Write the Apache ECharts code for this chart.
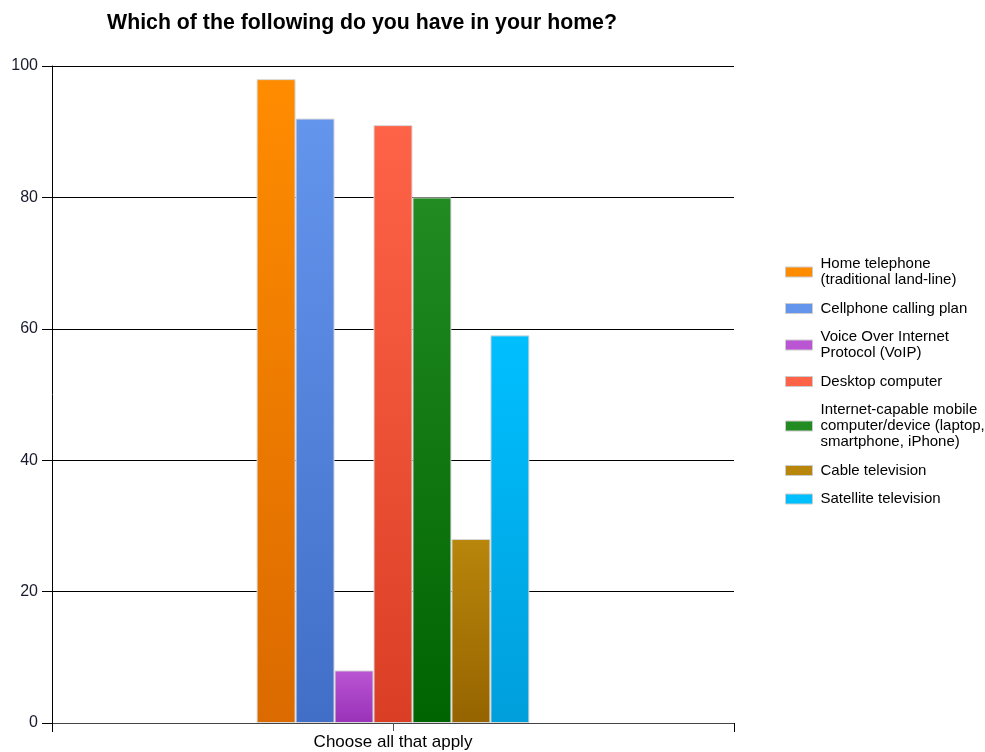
<!DOCTYPE html>
<html>
<head>
<meta charset="utf-8">
<script src="https://cdn.jsdelivr.net/npm/echarts@6/dist/echarts.min.js"></script>
<style>html,body{margin:0;padding:0;background:#fff;}#c{width:985px;height:752px;}</style>
</head>
<body>
<div id="c"></div>
<script>
const categories = ['Choose all that apply'];
const seriesNames = [
  'Home telephone\n(traditional land-line)',
  'Cellphone calling plan',
  'Voice Over Internet\nProtocol (VoIP)',
  'Desktop computer',
  'Internet-capable mobile\ncomputer/device (laptop,\nsmartphone, iPhone)',
  'Cable television',
  'Satellite television'
];
const seriesValues = [98, 92, 8, 91, 80, 28, 59];
const yTicks = [0, 20, 40, 60, 80, 100];
const topColors = ['#FF8C00', '#6495ED', '#BA55D3', '#FF6347', '#228B22', '#B8860B', '#00BFFF'];
const bottomColors = ['#DB6A00', '#416FC8', '#9932B8', '#DA3F25', '#006400', '#966400', '#009FDB'];

const chart = echarts.init(document.getElementById('c'));
const font = 'Liberation Sans, Arial, sans-serif';
chart.setOption({
  animation: false,
  title: {
    text: 'Which of the following do you have in your home?',
    left: 357, top: 8, textAlign: 'center',
    textStyle: { fontFamily: font, fontWeight: 'bold', fontSize: 21.3, color: '#000' }
  },
  legend: {
    orient: 'vertical', left: 785, top: 256, padding: 0,
    itemWidth: 27, itemHeight: 10, itemGap: 12.5,
    icon: 'rect',
    textStyle: { fontFamily: font, fontSize: 15, lineHeight: 16, color: '#000', padding: [0, 0, 0, 3] },
    data: seriesNames.map((n, i) => ({ name: n, itemStyle: { color: topColors[i], borderColor: '#ccc', borderWidth: 1 } }))
  },
  grid: { left: 52, right: 251, top: 66, bottom: 29, containLabel: false },
  xAxis: [{
    type: 'category', data: categories,
    axisLine: { show: true, lineStyle: { color: '#444', width: 1 } },
    axisTick: { show: true, interval: 0, alignWithLabel: true, length: 8, lineStyle: { color: '#555' } },
    axisLabel: { fontFamily: font, fontSize: 17, color: '#000', margin: 11 }
  }, {
    type: 'category', data: categories, position: 'bottom', offset: 0,
    axisLine: { show: false },
    axisTick: { show: true, interval: 0, length: 9, lineStyle: { color: '#000' } },
    axisLabel: { show: false }
  }],
  yAxis: {
    type: 'value', min: 0, max: 100, interval: 20,
    axisLine: { show: true, lineStyle: { color: '#000' } },
    axisTick: { show: true, length: 10, lineStyle: { color: '#000' } },
    axisLabel: { fontFamily: font, fontSize: 16, color: '#1a1a2e', margin: 14,
      formatter: v => yTicks.includes(v) ? String(v) : '' },
    splitLine: { lineStyle: { color: '#000', width: 1 } }
  },
  series: seriesNames.map((n, i) => ({
    name: n, type: 'bar', xAxisIndex: 0,
    barGap: '0%', barCategoryGap: '60%',
    data: [seriesValues[i]],
    itemStyle: {
      borderColor: '#d8d8d8', borderWidth: 1,
      color: new echarts.graphic.LinearGradient(0, 0, 0, 1, [
        { offset: 0, color: topColors[i] }, { offset: 1, color: bottomColors[i] }
      ])
    }
  }))
});
</script>
</body>
</html>
